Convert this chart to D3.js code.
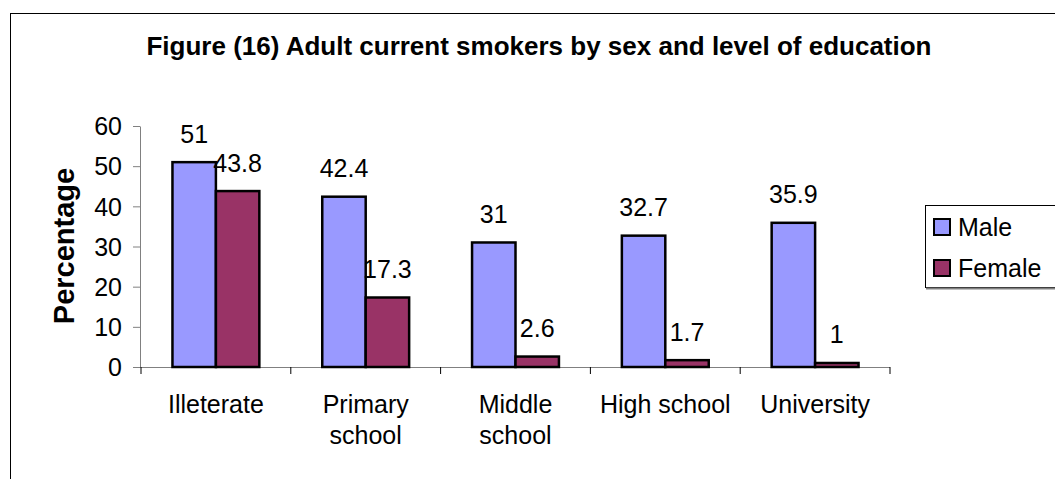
<!DOCTYPE html>
<html><head><meta charset="utf-8">
<script src="https://cdn.jsdelivr.net/npm/d3@7"></script>
<style>body{margin:0;background:#fff}svg{display:block}text{font-family:Arial,"Liberation Sans",sans-serif;fill:#000}</style>
</head><body><svg id="c" width="1055" height="479"></svg>
<script>
const categories = [["Illeterate"],["Primary","school"],["Middle","school"],["High school"],["University"]];
const categoryKeys = ["Illeterate","Primary school","Middle school","High school","University"];
const seriesNames = ["Male","Female"];
const maleValues = [51, 42.4, 31, 32.7, 35.9];
const femaleValues = [43.8, 17.3, 2.6, 1.7, 1];
const yTicks = [0,10,20,30,40,50,60];
const colors = ["#9999FF","#993366"];
const title = "Figure (16) Adult current smokers by sex and level of education";
const yLabel = "Percentage";

const svg = d3.select("#c");
const fs = 25;
// outer frame
svg.append("rect").attr("x",10.5).attr("y",13.5).attr("width",1100).attr("height",500)
  .attr("fill","none").attr("stroke","#000").attr("stroke-width",1);

svg.append("text").attr("x",539).attr("y",55).attr("text-anchor","middle")
  .attr("font-weight","bold").attr("font-size",26).text(title);

const x = d3.scaleBand().domain(categoryKeys).range([141,890]);
const y = d3.scaleLinear().domain([0,60]).range([367,126]);
const bw = x.bandwidth()*0.29;

const yAxis = svg.append("g").attr("transform","translate(140,0)")
  .call(d3.axisLeft(y).tickValues(yTicks).tickSize(7).tickPadding(11).tickSizeOuter(0));
yAxis.select(".domain").attr("stroke","#808080");
yAxis.selectAll(".tick line").attr("stroke","#808080");
yAxis.selectAll("text").attr("font-size",fs).attr("font-family","Arial, 'Liberation Sans', sans-serif").attr("dy","0.35em");

const xAxis = svg.append("g").attr("transform","translate(0,367)")
  .call(d3.axisBottom(x).tickSize(0).tickFormat(""));
xAxis.select(".domain").attr("stroke","#808080").attr("d","M133,0.5H890");
const bounds = categoryKeys.map(k=>x(k)).concat([x.range()[1]]);
xAxis.selectAll(".bnd").data(bounds).enter().append("line")
  .attr("x1",d=>d).attr("x2",d=>d).attr("y1",0).attr("y2",7).attr("stroke","#000");

const rows = categoryKeys.map((k,i)=>({k, vals:[maleValues[i],femaleValues[i]]}));
const g = svg.append("g");
rows.forEach(r=>{
  const cx = x(r.k)+x.bandwidth()/2;
  r.vals.forEach((v,j)=>{
    const bx = cx + (j-1)*bw;
    g.append("rect").attr("x",bx).attr("y",y(v)).attr("width",bw).attr("height",y(0)-y(v))
      .attr("fill",colors[j]).attr("stroke","#000").attr("stroke-width",2.5);
    g.append("text").attr("x",bx+bw/2).attr("y",y(v)-19.5).attr("text-anchor","middle")
      .attr("font-size",fs).text(v);
  });
});

categories.forEach((lines,i)=>{
  const cx = x(categoryKeys[i])+x.bandwidth()/2;
  const t = svg.append("text").attr("text-anchor","middle").attr("font-size",fs);
  lines.forEach((l,li)=>t.append("tspan").attr("x",cx).attr("y",413+li*31).text(l));
});

svg.append("text").attr("transform","translate(74,246) rotate(-90)").attr("text-anchor","middle")
  .attr("font-weight","bold").attr("font-size",29).text(yLabel);

// legend
const lg = svg.append("g");
lg.append("rect").attr("x",925.5).attr("y",205.5).attr("width",140).attr("height",82)
  .attr("fill","#fff").attr("stroke","#000").attr("stroke-width",1);
lg.append("line").attr("x1",926).attr("x2",1060).attr("y1",288.5).attr("y2",288.5).attr("stroke","#808080").attr("stroke-width",2);
seriesNames.forEach((s,i)=>{
  lg.append("rect").attr("x",934).attr("y",219+i*41).attr("width",16).attr("height",16)
    .attr("fill",colors[i]).attr("stroke","#000").attr("stroke-width",2);
  lg.append("text").attr("x",958).attr("y",236+i*41).attr("font-size",fs).text(s);
});
</script></body></html>
